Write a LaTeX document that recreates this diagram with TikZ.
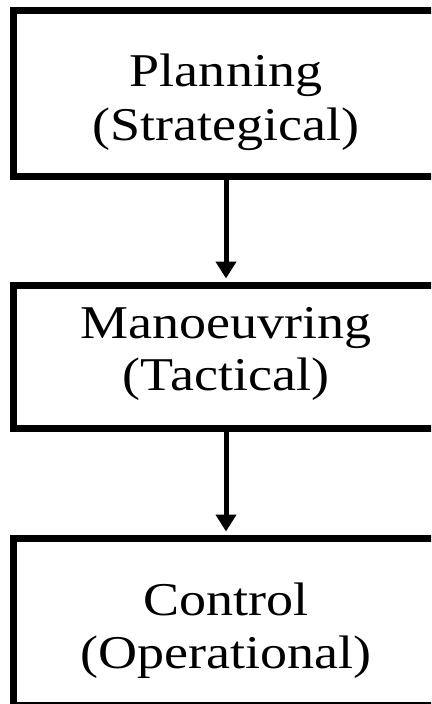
\documentclass[tikz,border=0pt]{standalone}
\usepackage{fontspec}
\setmainfont{Liberation Serif}
\usetikzlibrary{arrows.meta}
\newcommand{\widetext}[1]{\scalebox{1.15}[1]{#1}}
\begin{document}
\begin{tikzpicture}[x=1pt,y=-1pt,
  stagebox/.style={draw=black, line width=7pt, fill=white, minimum width=425pt,
    inner sep=0pt},
  textline/.style={anchor=base, inner sep=0pt, font=\fontsize{47}{53}\selectfont},
  flowarrow/.style={line width=5pt, -{Triangle[width=20pt,length=17pt]}, shorten >=3.5pt}]
\useasboundingbox (0,0) rectangle (431,704);
\clip (0,0) rectangle (431,704);
\node[stagebox, minimum height=166pt] (plan) at (226,93.5) {};
\node[stagebox, minimum height=143pt] (man) at (226,357) {};
\node[stagebox, minimum height=167pt] (ctrl) at (226,622) {};
\node[textline] (planA) at (226,86) {\widetext{Planning}};
\node[textline] (planB) at (226,140) {\widetext{(Strategical)}};
\node[textline] (manA) at (226,338) {\widetext{Manoeuvring}};
\node[textline] (manB) at (226,390) {\widetext{(Tactical)}};
\node[textline] (ctrlA) at (226,615) {\widetext{Control}};
\node[textline] (ctrlB) at (226,668) {\widetext{(Operational)}};
\draw[flowarrow] (plan.south) -- (man.north);
\draw[flowarrow] (man.south) -- (ctrl.north);
\end{tikzpicture}
\end{document}
